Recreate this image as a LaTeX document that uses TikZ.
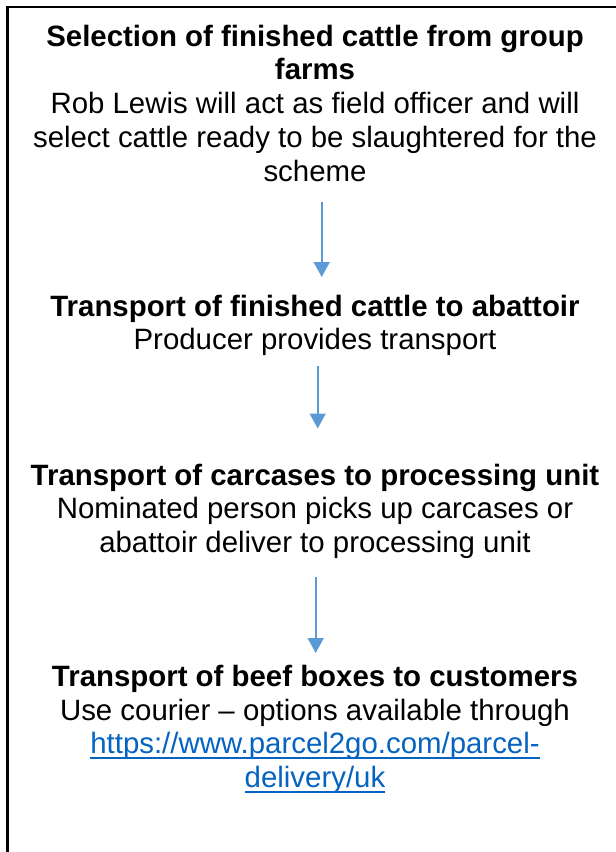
\documentclass[tikz,border=0pt]{standalone}
\usepackage{fontspec}
\setmainfont{Liberation Sans}
\usetikzlibrary{arrows.meta}
\definecolor{arrowblue}{HTML}{5B9BD5}
\definecolor{linkblue}{HTML}{0563C1}
\tikzset{
  ln/.style={anchor=base, inner sep=0pt, font=\fontsize{29.4}{33.8}\selectfont},
  hd/.style={ln, font=\fontsize{29.4}{33.8}\selectfont\bfseries},
  lk/.style={ln, text=linkblue},
  flow/.style={draw=arrowblue, line width=1.6pt, -{Triangle[width=16pt,length=15pt]}},
  frame/.style={draw=black, line width=2.2pt},
  uline/.style={draw=linkblue, line width=2pt}
}
\begin{document}
\begin{tikzpicture}[x=1pt,y=-1pt]
\useasboundingbox (0,0) rectangle (616,852);
\fill[white] (0,0) rectangle (616,852);
\draw[frame] (7.5,860) -- (7.5,7) -- (620,7);

\node[hd] (t1a) at (315,46) {Selection of finished cattle from group};
\node[hd] (t1b) at (315,79.5) {farms};
\node[ln] (d1a) at (315,113) {Rob Lewis will act as field officer and will};
\node[ln] (d1b) at (315,147) {select cattle ready to be slaughtered for the};
\node[ln] (d1c) at (315,181) {scheme};

\node[hd] (t2a) at (315,316) {Transport of finished cattle to abattoir};
\node[ln] (d2a) at (315,349.5) {Producer provides transport};

\node[hd] (t3a) at (315,485) {Transport of carcases to processing unit};
\node[ln] (d3a) at (315,518.5) {Nominated person picks up carcases or};
\node[ln] (d3b) at (315,552) {abattoir deliver to processing unit};

\node[hd] (t4a) at (315,686) {Transport of beef boxes to customers};
\node[ln] (d4a) at (315,720) {Use courier – options available through};
\node[lk] (u1) at (315,753.5) {https://www.parcel2go.com/parcel-};
\node[lk] (u2) at (315,787.5) {delivery/uk};
\draw[uline] ([yshift=-4pt]u1.base west) -- ([yshift=-4pt]u1.base east);
\draw[uline] ([yshift=-4pt]u2.base west) -- ([yshift=-4pt]u2.base east);

\coordinate (a1s) at (321.7,201.5);
\coordinate (a1e) at (321.7,277);
\coordinate (a2s) at (317.7,366);
\coordinate (a2e) at (317.7,428.5);
\coordinate (a3s) at (315.7,577);
\coordinate (a3e) at (315.7,653);
\draw[flow] (a1s) -- (a1e);
\draw[flow] (a2s) -- (a2e);
\draw[flow] (a3s) -- (a3e);
\end{tikzpicture}
\end{document}
